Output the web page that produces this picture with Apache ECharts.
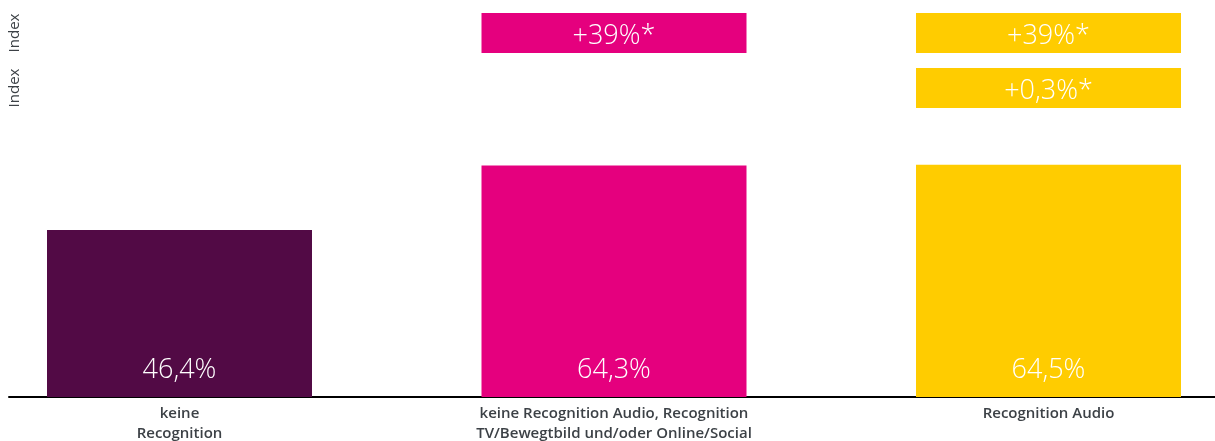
<!DOCTYPE html>
<html>
<head>
<meta charset="utf-8">
<script src="https://cdn.jsdelivr.net/npm/echarts@6/dist/echarts.min.js"></script>
<style>
html,body{margin:0;padding:0;background:#fff;}
#chart{width:1215px;height:441px;}
</style>
</head>
<body>
<div id="chart"></div>
<script>
const categories = ['keine\nRecognition', 'keine Recognition Audio, Recognition\nTV/Bewegtbild und/oder Online/Social', 'Recognition Audio'];
const values = [46.4, 64.3, 64.5];
const valueLabels = ['46,4%', '64,3%', '64,5%'];
const barColors = ['#520a45', '#e5007e', '#ffcc00'];
const indexRows = ['Index', 'Index'];
// [category index, row index, label]
const indexBoxes = [[1, 0, '+39%*'], [2, 0, '+39%*'], [2, 1, '+0,3%*']];

const chart = echarts.init(document.getElementById('chart'), null, {renderer: 'canvas'});
const bigFont = {color: '#fff', fontSize: 27, fontFamily: 'Open Sans', fontWeight: 300, letterSpacing: 2.5};
const option = {
  animation: false,
  grid: [
    {left: 179.5, right: 166.5, top: 37, bottom: 44, outerBoundsMode: 'none', containLabel: false},
    {left: 179.5, right: 166.5, top: 5.5, height: 110, outerBoundsMode: 'none', containLabel: false},
    {left: 9, right: 0, top: 37, bottom: 44, outerBoundsMode: 'none', containLabel: false}
  ],
  xAxis: [
    {
      type: 'category', gridIndex: 0, data: categories, boundaryGap: false,
      axisLine: {show: false}, axisTick: {show: false},
      axisLabel: {
        margin: 7, color: '#3c4146', fontSize: 15, fontWeight: 600,
        fontFamily: 'Open Sans', lineHeight: 20, interval: 0
      }
    },
    {
      type: 'category', gridIndex: 1, data: categories, boundaryGap: false,
      show: false
    },
    {
      type: 'value', gridIndex: 2, min: 0, max: 1,
      axisLine: {show: true, lineStyle: {color: '#000', width: 2}},
      axisTick: {show: false}, axisLabel: {show: false}, splitLine: {show: false}
    }
  ],
  yAxis: [
    {type: 'value', gridIndex: 0, min: 0, max: 100, show: false},
    {
      type: 'category', gridIndex: 1, data: indexRows, inverse: true,
      axisLine: {show: false}, axisTick: {show: false},
      axisLabel: {
        rotate: 90, margin: 157, color: '#3c4146', fontSize: 15,
        fontFamily: 'Open Sans', fontWeight: 400
      }
    },
    {type: 'value', gridIndex: 2, min: 0, max: 1, show: false}
  ],
  series: [
    {
      type: 'bar', xAxisIndex: 0, yAxisIndex: 0, barWidth: 265,
      data: values.map((v, i) => ({value: v, itemStyle: {color: barColors[i]}})),
      label: Object.assign({
        show: true, position: 'insideBottom', distance: 13,
        formatter: p => valueLabels[p.dataIndex]
      }, bigFont)
    },
    {
      type: 'scatter', xAxisIndex: 1, yAxisIndex: 1,
      symbol: 'rect', symbolSize: [265, 40],
      data: indexBoxes.map(b => ({value: b, itemStyle: {color: barColors[b[0]], opacity: 1}})),
      label: Object.assign({
        show: true, position: 'inside', offset: [0, 3],
        formatter: p => p.value[2]
      }, bigFont)
    }
  ]
};
chart.setOption(option);
</script>
</body>
</html>
